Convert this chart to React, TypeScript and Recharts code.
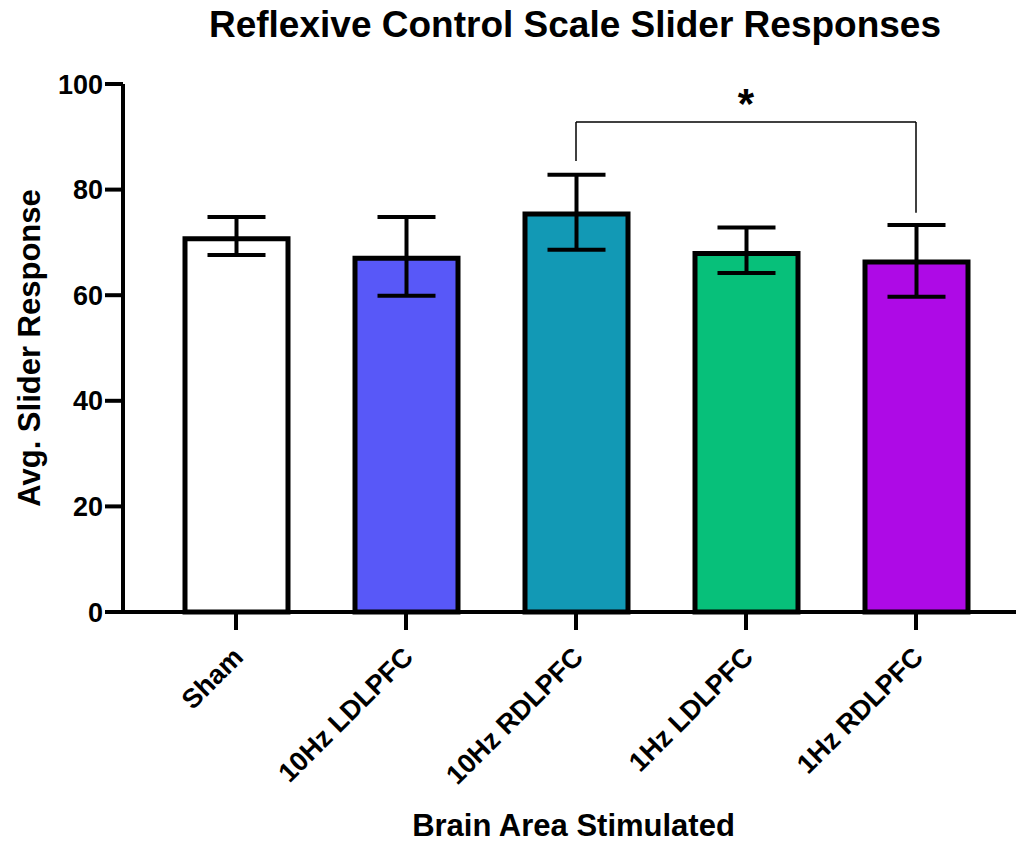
import React from 'react';
import { BarChart, Bar, XAxis, YAxis, Cell, ErrorBar, ReferenceLine } from 'recharts';

const groups = ['Sham', '10Hz LDLPFC', '10Hz RDLPFC', '1Hz LDLPFC', '1Hz RDLPFC'];
const means = [70.7, 67.0, 75.4, 67.9, 66.3];
const lowerEnds = [67.6, 59.9, 68.6, 64.2, 59.7];
const upperEnds = [74.8, 74.8, 82.8, 72.8, 73.3];
const barColors = ['#ffffff', '#5858f8', '#1299b5', '#07c07a', '#ae0ae6'];
const yTicks = [0, 20, 40, 60, 80, 100];

// significance bracket between 10Hz RDLPFC and 1Hz RDLPFC
const bracketTop = 92.8;
const bracketLeftFoot = 85.4;
const bracketRightFoot = 75.6;

const font = '"Liberation Sans", Arial, sans-serif';

const data = groups.map((name, i) => ({
  name,
  mean: means[i],
  err: [means[i] - lowerEnds[i], upperEnds[i] - means[i]],
}));

const GroupTick = ({ x, y, payload }: any) => {
  const tx = x + 2;
  return (
    <text
      x={tx}
      y={y}
      dy="0.35em"
      textAnchor="end"
      transform={`rotate(-45 ${tx} ${y})`}
      fontSize={27}
      fontWeight="bold"
      fontFamily={font}
      fill="#000"
    >
      {payload.value}
    </text>
  );
};

export default function App() {
  return (
    <div style={{ position: 'relative', margin: '-8px 0 0 -8px', width: 1024, height: 842, fontFamily: font }}>
      <div
        style={{
          position: 'absolute',
          top: 6,
          left: 75,
          width: 1000,
          textAlign: 'center',
          fontSize: 37,
          lineHeight: '37px',
          fontWeight: 'bold',
          color: '#000',
        }}
      >
        Reflexive Control Scale Slider Responses
      </div>
      <BarChart width={1024} height={842} data={data} margin={{ top: 84, right: 0, bottom: 0, left: 0 }}>
        <XAxis
          dataKey="name"
          height={230}
          padding={{ left: 28, right: 23 }}
          axisLine={{ stroke: '#000', strokeWidth: 4 }}
          tickLine={{ stroke: '#000', strokeWidth: 4 }}
          tickSize={18}
          tickMargin={22}
          tick={<GroupTick />}
          interval={0}
          label={{
            value: 'Brain Area Stimulated',
            position: 'insideBottom',
            offset: 6,
            style: { fontSize: 31, fontWeight: 'bold', fill: '#000', fontFamily: font },
          }}
        />
        <YAxis
          width={123}
          domain={[0, 100]}
          ticks={yTicks}
          axisLine={{ stroke: '#000', strokeWidth: 4 }}
          tickLine={{ stroke: '#000', strokeWidth: 4 }}
          tickSize={18}
          tickMargin={2}
          tick={{ fontSize: 27, fontWeight: 'bold', fill: '#000', fontFamily: font }}
          label={{
            value: 'Avg. Slider Response',
            angle: -90,
            position: 'insideLeft',
            offset: 29,
            style: { textAnchor: 'middle', fontSize: 31, fontWeight: 'bold', fill: '#000', fontFamily: font },
          }}
        />
        <Bar dataKey="mean" barSize={103} stroke="#000" strokeWidth={5} isAnimationActive={false}>
          {data.map((d, i) => (
            <Cell key={d.name} fill={barColors[i]} />
          ))}
          <ErrorBar dataKey="err" direction="y" width={29} stroke="#000" strokeWidth={4} />
        </Bar>
        <ReferenceLine
          segment={[
            { x: groups[2], y: bracketTop },
            { x: groups[4], y: bracketTop },
          ]}
          stroke="#000"
          strokeWidth={1.5}
          label={{ value: '*', position: 'top', offset: 4, style: { fontSize: 42, fontWeight: 'bold', fill: '#000', fontFamily: font } }}
        />
        <ReferenceLine
          segment={[
            { x: groups[2], y: bracketTop },
            { x: groups[2], y: bracketLeftFoot },
          ]}
          stroke="#000"
          strokeWidth={1.5}
        />
        <ReferenceLine
          segment={[
            { x: groups[4], y: bracketTop },
            { x: groups[4], y: bracketRightFoot },
          ]}
          stroke="#000"
          strokeWidth={1.5}
        />
      </BarChart>
    </div>
  );
}
